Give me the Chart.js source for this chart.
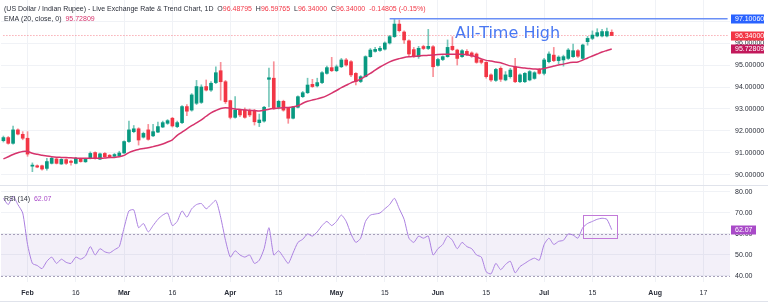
<!DOCTYPE html>
<html>
<head>
<meta charset="utf-8">
<script src="https://cdn.jsdelivr.net/npm/chart.js@4.4.1/dist/chart.umd.min.js"></script>
<style>html,body{margin:0;padding:0;background:#fff;}canvas{display:block;}</style>
</head>
<body>
<canvas id="c" width="768" height="303"></canvas>
<script>
// ---------- DATA ----------
const opens = [91.56,91.70,91.44,92.05,91.85,91.67,90.40,90.42,90.42,90.30,90.53,90.73,90.50,90.70,90.63,90.53,90.72,90.60,90.76,91.02,
90.72,90.98,90.90,90.85,90.88,91.00,91.52,91.97,92.10,91.72,92.05,91.78,91.95,92.18,92.35,92.58,92.20,92.38,93.11,92.95,
93.26,93.30,94.02,93.86,94.20,94.74,94.24,93.38,92.62,92.95,92.95,92.90,92.92,92.38,92.45,94.35,94.40,93.08,93.35,93.03,
92.58,93.08,93.56,93.74,94.12,94.05,94.20,94.62,94.88,94.74,94.92,95.23,95.15,94.62,94.25,94.47,95.38,95.62,95.66,95.72,
96.00,96.29,96.86,96.50,96.10,95.70,95.38,95.84,95.75,95.83,94.98,95.25,95.38,95.85,95.68,95.38,95.62,95.55,95.50,95.23,
95.12,94.55,94.30,94.85,94.32,94.47,94.92,94.24,94.24,94.32,94.39,94.80,94.62,95.15,95.45,95.20,95.23,95.30,95.38,95.65,
95.30,96.06,96.21,96.32,96.32,96.32,96.48795];
const highs = [91.77,91.75,92.22,92.10,91.97,91.97,90.55,90.46,90.45,90.76,90.80,90.76,90.74,90.74,90.68,90.80,90.76,90.76,91.05,91.05,
91.00,91.02,90.93,90.98,91.08,91.55,92.45,92.25,92.15,91.95,92.30,92.30,92.40,92.45,92.52,92.62,92.45,93.15,93.20,93.70,
94.30,94.10,94.32,94.25,94.92,95.12,94.30,93.40,93.56,93.00,93.05,93.00,92.98,92.77,93.12,94.86,95.15,93.40,93.40,93.05,
93.12,93.60,93.80,94.40,94.35,94.40,94.70,94.95,95.35,95.00,95.30,95.30,95.20,94.65,94.52,95.42,95.75,95.80,95.85,96.05,
96.35,97.10,97.05,96.55,96.15,95.80,95.85,95.90,96.62,95.88,95.30,95.42,96.14,96.29,95.72,95.70,95.70,95.60,95.55,95.28,
95.15,94.60,94.85,94.92,94.70,94.85,95.30,94.60,94.66,94.75,94.70,94.85,95.30,95.60,95.80,95.42,95.45,95.75,95.95,95.70,
95.95,96.30,96.55,96.65,96.62,96.68,96.59765];
const lows = [91.50,91.40,91.40,91.82,91.60,90.85,90.15,90.33,90.22,90.22,90.50,90.50,90.48,90.48,90.45,90.50,90.58,90.57,90.73,90.72,
90.70,90.80,90.78,90.82,90.85,90.98,91.48,91.92,91.36,91.68,91.58,91.74,91.92,92.15,92.30,92.18,92.15,92.33,92.70,92.90,
93.20,93.25,93.82,93.80,94.15,93.40,93.25,92.55,92.58,92.65,92.58,92.65,92.27,92.20,92.40,93.09,92.98,93.00,92.90,92.35,
92.55,93.05,93.52,93.70,93.98,94.00,94.15,94.58,94.70,94.70,94.88,94.95,94.47,94.10,94.20,94.45,95.35,95.58,95.62,95.68,
95.95,96.25,96.50,95.98,95.40,95.35,95.30,95.70,95.70,94.47,94.95,95.20,95.35,95.65,95.00,95.35,95.42,95.35,95.08,95.05,
94.40,94.25,94.25,94.25,94.28,94.40,94.20,94.20,94.20,94.28,94.35,94.58,94.55,95.10,95.15,95.05,94.95,95.25,95.35,95.35,
95.25,95.90,96.15,96.28,96.28,96.28,96.34];
const closes = [91.70,91.44,92.05,91.86,91.67,90.95,90.45,90.36,90.27,90.61,90.76,90.53,90.71,90.53,90.57,90.76,90.61,90.72,90.98,90.76,
90.96,90.83,90.83,90.93,91.00,91.52,92.05,92.10,91.59,91.89,91.62,91.97,92.20,92.38,92.47,92.23,92.38,93.11,92.90,93.64,
94.02,94.00,93.86,94.17,94.65,94.24,93.33,92.62,92.95,92.73,92.62,92.73,92.42,92.50,93.08,94.42,93.03,93.35,92.95,92.58,
93.08,93.56,93.74,94.09,94.02,94.20,94.65,94.88,94.74,94.92,95.23,95.00,94.55,94.25,94.47,95.38,95.68,95.71,95.76,96.00,
96.29,96.86,96.56,96.14,95.50,95.42,95.76,95.75,95.85,94.92,95.25,95.38,95.80,95.70,95.30,95.65,95.47,95.40,95.12,95.12,
94.47,94.32,94.80,94.35,94.55,94.77,94.24,94.55,94.62,94.70,94.65,94.62,95.23,95.50,95.20,95.36,95.38,95.68,95.65,95.40,
95.91,96.21,96.36,96.47,96.52,96.52,96.34];
const ema20 = [90.73,90.83,90.93,91.01,91.07,91.07,90.99,90.94,90.90,90.86,90.83,90.81,90.80,90.79,90.78,90.77,90.76,90.76,90.76,90.76,
90.76,90.77,90.79,90.80,90.83,90.89,91.02,91.10,91.16,91.20,91.24,91.29,91.34,91.41,91.50,91.60,91.80,91.95,92.10,92.24,
92.37,92.51,92.67,92.82,92.93,93.02,93.06,93.03,93.00,92.98,92.96,92.94,92.93,92.91,92.94,92.99,93.02,93.04,93.06,93.07,
93.10,93.15,93.26,93.35,93.41,93.46,93.52,93.61,93.72,93.84,93.97,94.08,94.19,94.27,94.36,94.49,94.62,94.77,94.91,95.03,
95.14,95.23,95.29,95.34,95.37,95.39,95.41,95.43,95.44,95.45,95.48,95.49,95.49,95.49,95.49,95.49,95.47,95.43,95.36,95.28,
95.21,95.18,95.14,95.10,95.03,94.96,94.92,94.89,94.86,94.84,94.82,94.81,94.84,94.90,94.95,95.00,95.04,95.09,95.12,95.14,
95.22,95.32,95.41,95.50,95.59,95.66,95.72809];
const rsi14 = [77,74,78,74,70,55,46,45,43.5,47,49,46,48,46.5,46,49,48,49.5,54,50,
53,51.5,51,52.5,54,63,71,71.5,63,65,61,64,67,69,70,64,66,71,68,72,
74,74.5,72,74,76,68,57,49,52,50,49,50,46,47.5,53,63,50,52,49,46,
51,56,57.5,60,59,61,64,66,64,66,69,66,60,56,58,66,69,69.5,70,72,
74,77,72,67,58,56,59,58,59,50,53,55,59,57,53,56,54,53,50,49,
42,41,46,43,45.5,47,41.5,44.5,46,47.5,48.5,47.5,55,58,55,56.5,57,60,59.5,58,
63,65,66,67,67.5,67,62.07];

const changeText = '-0.14805 (-0.15%)';   // as printed in the chart header
const athValue = 97.10060;          // All-Time High level
const athStartDate = '2026-05-18';   // where the ATH line starts
const priceTicks = [90,91,92,93,94,95,96,97];
const rsiTicks = [40,50,60,70,80];
const rsiBand = [40,60];
const rsiBox = {from:'2026-07-13', to:'2026-07-22', low:58.1, high:69.0};
const tickDates = ['2026-02-02','2026-02-16','2026-03-02','2026-03-16','2026-04-01','2026-04-15','2026-05-01','2026-05-15','2026-06-01','2026-06-15','2026-07-01','2026-07-15','2026-08-03','2026-08-17'];
const tickTexts = ['Feb','16','Mar','16','Apr','15','May','15','Jun','15','Jul','15','Aug','17'];
const monthNames = ['Feb','Mar','Apr','May','Jun','Jul','Aug'];

// categories: trading days (weekdays) from Jan 26 to mid-Aug
const categories = [];
(function(){ const d = new Date(Date.UTC(2026,0,26)); while (categories.length < 151) { const wd = d.getUTCDay(); if (wd !== 0 && wd !== 6) categories.push(d.toISOString().slice(0,10)); d.setUTCDate(d.getUTCDate()+1); } })();

const tickMap = {};
tickDates.forEach((d,i)=>{ tickMap[d] = tickTexts[i]; });

// ---------- STYLE ----------
const FONT = "'Liberation Sans', Arial, sans-serif";
const GREEN = '#089981', RED = '#f23645';
const GREEN_W = 'rgba(8,153,129,0.55)', RED_W = 'rgba(242,54,69,0.55)';
const EMA_C = '#d6336c', RSI_C = '#ab80e0', BLUE = '#2962ff';

const n = closes.length;
const up = closes.map((c,i)=> c >= opens[i]);
const lastClose = closes[n-1], lastEma = ema20[n-1], lastRsi = rsi14[n-1];

const athIdx = categories.indexOf(athStartDate);
const athLine = categories.map((_,i)=> (i === athIdx || i === categories.length-1) ? athValue : null);
const priceLine = categories.map((_,i)=> (i === 0 || i === categories.length-1) ? lastClose : null);

function drawParts(ctx, parts, x, y) {
  parts.forEach(([t,c]) => { ctx.fillStyle = c; ctx.fillText(t, x, y); x += ctx.measureText(t).width; });
}
function noPad(s) { s.paddingTop = 0; s.paddingBottom = 0; s.paddingLeft = 0; s.paddingRight = 0; }

const overlay = {
  id: 'overlay',
  beforeDatasetsDraw(chart) {
    const {ctx, chartArea: ca, scales: {rsi}} = chart;
    const yTop = rsi.getPixelForValue(rsiBand[1]), yBot = rsi.getPixelForValue(rsiBand[0]);
    ctx.save();
    ctx.fillStyle = 'rgba(126,87,194,0.09)';
    ctx.fillRect(ca.left, yTop, ca.right - ca.left, yBot - yTop);
    ctx.setLineDash([2,2]); ctx.strokeStyle = '#a7a0ba'; ctx.lineWidth = 1;
    [yTop, yBot].forEach(yy => { ctx.beginPath(); ctx.moveTo(ca.left, Math.round(yy)+0.5); ctx.lineTo(ca.right, Math.round(yy)+0.5); ctx.stroke(); });
    ctx.restore();
  },
  afterDraw(chart) {
    const {ctx, chartArea: ca, scales: {x, y, rsi}} = chart;
    ctx.save();
    // pane separator
    ctx.strokeStyle = '#e0e3eb'; ctx.lineWidth = 1;
    ctx.beginPath(); ctx.moveTo(0, Math.round(y.bottom)+0.5); ctx.lineTo(768, Math.round(y.bottom)+0.5); ctx.stroke();
    ctx.beginPath(); ctx.moveTo(0, 301.5); ctx.lineTo(768, 301.5); ctx.stroke();
    // RSI highlight box
    const bx1 = x.getPixelForValue(categories.indexOf(rsiBox.from)), bx2 = x.getPixelForValue(categories.indexOf(rsiBox.to));
    const by1 = rsi.getPixelForValue(rsiBox.high), by2 = rsi.getPixelForValue(rsiBox.low);
    ctx.strokeStyle = '#c27ad9'; ctx.lineWidth = 1;
    ctx.strokeRect(Math.round(bx1)+0.5, Math.round(by1)+0.5, Math.round(bx2-bx1), Math.round(by2-by1));
    // axis value boxes
    ctx.font = '7px ' + FONT; ctx.textBaseline = 'middle';
    const box = (scale, v, txt, color, w) => {
      const yy = scale.getPixelForValue(v);
      ctx.fillStyle = color; ctx.fillRect(ca.right + 1, Math.round(yy) - 4.5, w, 9);
      ctx.fillStyle = '#fff'; ctx.fillText(txt, ca.right + 5, Math.round(yy) + 0.5);
    };
    box(y, athValue, athValue.toFixed(5), BLUE, 33);
    box(y, lastClose, lastClose.toFixed(5), RED, 33);
    box(y, lastEma, lastEma.toFixed(5), '#c2185b', 33);
    box(rsi, lastRsi, lastRsi.toFixed(2), '#a94ac8', 25);
    // header texts
    ctx.font = '7px ' + FONT; ctx.textBaseline = 'middle';
    const DK = '#2a2e39';
    drawParts(ctx, [['(US Dollar / Indian Rupee) - Live Exchange Rate & Trend Chart, 1D  ', DK], ['O', DK], [opens[n-1].toFixed(5), RED], ['  H', DK], [highs[n-1].toFixed(5), RED], ['  L', DK], [lows[n-1].toFixed(5), RED], ['  C', DK], [closes[n-1].toFixed(5), RED], ['  ' + changeText, RED]], 4, 9);
    drawParts(ctx, [['EMA (20, close, 0)  ', DK], [lastEma.toFixed(5), EMA_C]], 4, 19);
    drawParts(ctx, [['RSI (14)  ', DK], [lastRsi.toFixed(2), '#a94ac8']], 4, 199);
    // annotation text
    ctx.font = "16px 'DejaVu Sans', sans-serif"; ctx.textBaseline = 'alphabetic';
    ctx.fillStyle = '#4a78f2';
    ctx.fillText('All-Time High', 455, 37.5);
    ctx.restore();
  }
};

new Chart(document.getElementById('c'), {
  type: 'bar',
  data: {
    labels: categories,
    datasets: [
      { type:'line', label:'EMA', data: ema20, yAxisID:'y', borderColor: EMA_C, borderWidth: 1.5, pointRadius: 0, tension: 0.3, order: 0 },
      { type:'line', label:'ATH', data: athLine, yAxisID:'y', borderColor: '#6a8ff6', borderWidth: 1.5, pointRadius: 0, spanGaps: true, order: 0 },
      { type:'line', label:'Price', data: priceLine, yAxisID:'y', borderColor: 'rgba(242,54,69,0.6)', borderWidth: 1, borderDash: [1,2], pointRadius: 0, spanGaps: true, order: 5 },
      { type:'line', label:'RSI', data: rsi14, yAxisID:'rsi', borderColor: RSI_C, borderWidth: 1, pointRadius: 0, tension: 0.2, order: 0 },
      { label:'Wicks', data: lows.map((l,i)=>[l, highs[i]]), yAxisID:'y', backgroundColor: up.map(u=> u ? GREEN_W : RED_W), barThickness: 1, grouped: false, order: 2 },
      { label:'Bodies', data: opens.map((o,i)=>[o, closes[i]]), yAxisID:'y', backgroundColor: up.map(u=> u ? GREEN : RED), barThickness: 3, minBarLength: 1, grouped: false, order: 1 }
    ]
  },
  options: {
    responsive: false, animation: false, devicePixelRatio: 1,
    layout: { padding: { left: 1, right: 0, top: 0, bottom: 0 } },
    plugins: { legend: { display: false }, tooltip: { enabled: false } },
    scales: {
      x: {
        type: 'category', offset: true,
        grid: { color: '#f0f2f6', offset: false, drawTicks: false },
        border: { display: false },
        afterBuildTicks: s => { s.ticks = s.ticks.filter(t => tickMap[categories[t.value]] !== undefined); },
        ticks: { autoSkip: false, maxRotation: 0, padding: 7, color: '#2a2e39',
          font: ctx => ({ family: FONT, size: 7, weight: (ctx.tick && monthNames.includes(tickMap[categories[ctx.tick.value]])) ? 'bold' : 'normal' }),
          callback: v => tickMap[categories[v]] },
        afterFit: s => { s.height = 21; noPad(s); }
      },
      y: {
        type: 'linear', position: 'right', stack: 'pane', stackWeight: 185,
        min: 89.545, max: 97.955,
        grid: { color: '#f0f2f6', drawTicks: false }, border: { display: false },
        afterBuildTicks: s => { s.ticks = priceTicks.map(v => ({ value: v })); },
        ticks: { padding: 5, color: '#2a2e39', font: { family: FONT, size: 7 }, callback: v => v.toFixed(5) },
        afterFit: s => { s.width = 38; noPad(s); }
      },
      rsi: {
        type: 'linear', position: 'right', stack: 'pane', stackWeight: 97,
        min: 37.14, max: 83.33,
        grid: { color: '#f0f2f6', drawTicks: false }, border: { display: false },
        afterBuildTicks: s => { s.ticks = rsiTicks.map(v => ({ value: v })); },
        ticks: { padding: 5, color: '#2a2e39', font: { family: FONT, size: 7 }, callback: v => v.toFixed(2) },
        afterFit: s => { s.width = 38; noPad(s); }
      }
    }
  },
  plugins: [overlay]
});
</script>
</body>
</html>
